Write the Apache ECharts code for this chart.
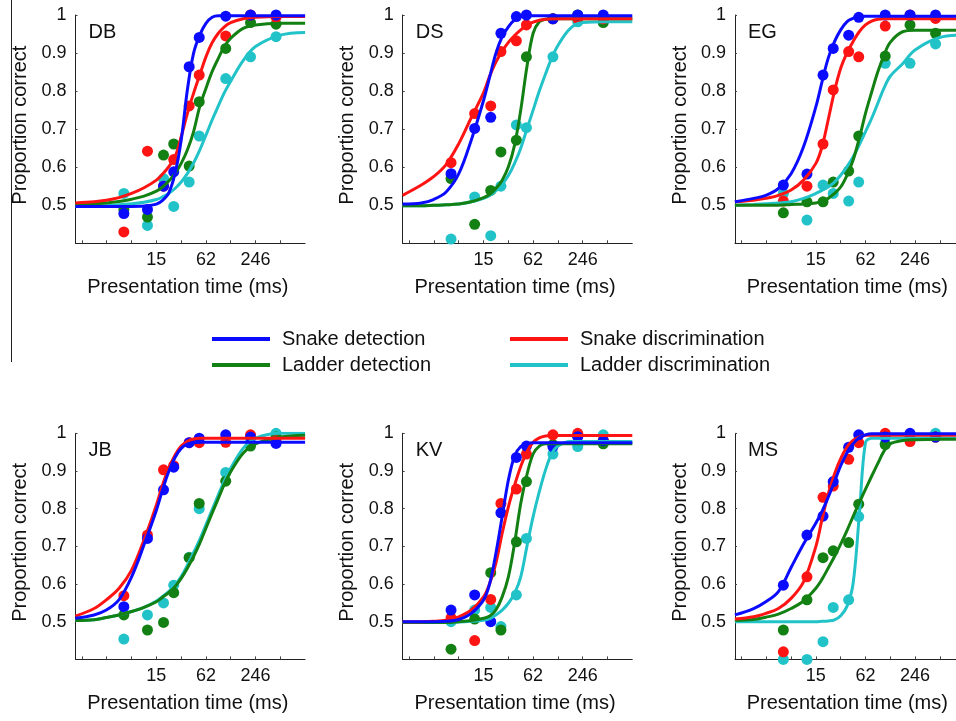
<!DOCTYPE html>
<html>
<head>
<meta charset="utf-8">
<title>Proportion correct vs presentation time</title>
<script src="https://cdn.jsdelivr.net/npm/echarts@6/dist/echarts.min.js"></script>
<style>
    html, body { margin: 0; padding: 0; background: #fff; }
    #chart { width: 956px; height: 721px; }
</style>
</head>
<body>
<div id="chart"></div>
<script>
// x axis runs in log2 steps of this many ms (246 / 64)
var BASE_MS = 3.84375;

// presentation times of the measured points (ms)
var TIMES = [6.2, 12, 18.8, 25, 38.5, 51, 107, 214, 437];
// presentation times where the fitted curves were read (ms)
var FIT_TIMES = [1.6, 2.7, 3.8, 5.4, 7.7, 10.9, 15.4, 18.3, 21.7, 25.9, 30.8, 36.6, 43.5, 51.7, 61.5, 73.1, 87, 103, 123, 174, 246, 492, 984];

var X_LABEL_MS = [15.375, 61.5, 246];
var X_TICK_MS = [1.92, 3.84, 7.69, 15.375, 30.75, 61.5, 123, 246, 492];
var Y_TICKS = [0.5, 0.6, 0.7, 0.8, 0.9, 1];

var SERIES_NAMES = ['Snake detection', 'Snake discrimination', 'Ladder detection', 'Ladder discrimination'];
var COLORS = ['#0b0bff', '#ff1414', '#138013', '#22c3c8'];

/* ---------------- DB ---------------- */
var DB_SNAKE_DET = [0.478, 0.489, 0.55, 0.588, 0.864, 0.941, 0.997, 1.0, 1.0];
var DB_SNAKE_DIS = [0.43, 0.642, 0.55, 0.62, 0.761, 0.842, 0.945, 1.0, 0.994];
var DB_LADDER_DET = [0.489, 0.469, 0.632, 0.661, 0.603, 0.772, 0.912, 0.98, 0.976];
var DB_LADDER_DIS = [0.531, 0.447, 0.57, 0.497, 0.561, 0.682, 0.833, 0.89, 0.943];
var DB_FIT_SNAKE_DET = [0.497, 0.497, 0.497, 0.497, 0.497, 0.498, 0.503, 0.513, 0.532, 0.583, 0.671, 0.803, 0.899, 0.947, 0.978, 0.994, 0.998, 0.998, 0.998, 0.998, 0.998, 0.998, 0.998];
var DB_FIT_SNAKE_DIS = [0.506, 0.509, 0.513, 0.52, 0.531, 0.546, 0.566, 0.582, 0.601, 0.627, 0.68, 0.741, 0.794, 0.842, 0.89, 0.927, 0.952, 0.969, 0.98, 0.99, 0.994, 0.996, 0.996];
var DB_FIT_LADDER_DET = [0.503, 0.504, 0.506, 0.51, 0.516, 0.524, 0.537, 0.548, 0.563, 0.583, 0.61, 0.645, 0.693, 0.759, 0.807, 0.851, 0.886, 0.917, 0.939, 0.965, 0.974, 0.978, 0.978];
var DB_FIT_LADDER_DIS = [0.497, 0.498, 0.499, 0.501, 0.504, 0.508, 0.515, 0.522, 0.531, 0.544, 0.561, 0.583, 0.611, 0.645, 0.684, 0.724, 0.761, 0.796, 0.826, 0.88, 0.917, 0.947, 0.954];

/* ---------------- DS ---------------- */
var DS_SNAKE_DET = [0.583, 0.702, 0.731, 0.952, 0.996, 1.0, 0.99, 1.0, 1.0];
var DS_SNAKE_DIS = [0.612, 0.741, 0.761, 0.904, 0.932, 0.974, 0.99, 0.99, 0.99];
var DS_LADDER_DET = [0.57, 0.45, 0.539, 0.64, 0.671, 0.89, 0.99, 1.0, 0.98];
var DS_LADDER_DIS = [0.411, 0.522, 0.42, 0.55, 0.711, 0.704, 0.89, 0.982, 0.982];
var DS_FIT_SNAKE_DET = [0.503, 0.506, 0.515, 0.535, 0.583, 0.671, 0.776, 0.838, 0.899, 0.943, 0.969, 0.987, 0.996, 0.998, 0.998, 0.998, 0.998, 0.998, 0.998, 0.998, 0.998, 0.998, 0.998];
var DS_FIT_SNAKE_DIS = [0.526, 0.553, 0.575, 0.607, 0.662, 0.73, 0.796, 0.84, 0.876, 0.905, 0.928, 0.946, 0.961, 0.973, 0.981, 0.986, 0.989, 0.99, 0.99, 0.99, 0.99, 0.99, 0.99];
var DS_FIT_LADDER_DET = [0.499, 0.499, 0.5, 0.501, 0.503, 0.509, 0.52, 0.529, 0.544, 0.566, 0.601, 0.658, 0.75, 0.864, 0.952, 0.982, 0.989, 0.99, 0.99, 0.99, 0.99, 0.99, 0.99];
var DS_FIT_LADDER_DIS = [0.499, 0.499, 0.5, 0.501, 0.503, 0.509, 0.518, 0.526, 0.538, 0.555, 0.578, 0.61, 0.65, 0.7, 0.75, 0.8, 0.845, 0.886, 0.92, 0.965, 0.98, 0.982, 0.982];

/* ---------------- EG ---------------- */
var EG_SNAKE_DET = [0.553, 0.582, 0.842, 0.912, 0.947, 0.994, 1.0, 1.0, 1.0];
var EG_SNAKE_DIS = [0.511, 0.55, 0.661, 0.803, 0.904, 0.89, 0.971, 1.0, 0.991];
var EG_LADDER_DET = [0.48, 0.509, 0.509, 0.561, 0.59, 0.682, 0.892, 0.974, 0.952];
var EG_LADDER_DIS = [0.531, 0.461, 0.553, 0.531, 0.511, 0.561, 0.873, 0.873, 0.924];
var EG_FIT_SNAKE_DET = [0.509, 0.518, 0.526, 0.544, 0.583, 0.654, 0.759, 0.825, 0.886, 0.93, 0.961, 0.982, 0.991, 0.997, 0.997, 0.997, 0.997, 0.997, 0.997, 0.997, 0.997, 0.997, 0.997];
var EG_FIT_SNAKE_DIS = [0.509, 0.513, 0.518, 0.526, 0.54, 0.566, 0.61, 0.654, 0.724, 0.8, 0.86, 0.9, 0.93, 0.956, 0.974, 0.984, 0.989, 0.99, 0.99, 0.99, 0.99, 0.99, 0.99];
var EG_FIT_LADDER_DET = [0.5, 0.5, 0.5, 0.5, 0.502, 0.503, 0.506, 0.511, 0.518, 0.531, 0.548, 0.578, 0.618, 0.675, 0.741, 0.797, 0.851, 0.893, 0.928, 0.956, 0.96, 0.96, 0.96];
var EG_FIT_LADDER_DIS = [0.5, 0.502, 0.504, 0.506, 0.509, 0.518, 0.531, 0.539, 0.548, 0.561, 0.579, 0.601, 0.627, 0.658, 0.693, 0.728, 0.768, 0.807, 0.839, 0.872, 0.908, 0.941, 0.947];

/* ---------------- JB ---------------- */
var JB_SNAKE_DET = [0.54, 0.721, 0.85, 0.91, 0.975, 0.987, 0.996, 0.99, 0.973];
var JB_SNAKE_DIS = [0.569, 0.73, 0.903, 0.914, 0.975, 0.975, 0.976, 0.996, 0.98];
var JB_LADDER_DET = [0.518, 0.478, 0.498, 0.577, 0.67, 0.814, 0.873, 0.966, 0.99];
var JB_LADDER_DIS = [0.454, 0.518, 0.55, 0.597, 0.671, 0.8, 0.896, 0.976, 1.0];
var JB_FIT_SNAKE_DET = [0.509, 0.518, 0.531, 0.558, 0.619, 0.704, 0.796, 0.85, 0.898, 0.936, 0.96, 0.971, 0.975, 0.976, 0.976, 0.976, 0.976, 0.976, 0.976, 0.976, 0.976, 0.976, 0.976];
var JB_FIT_SNAKE_DIS = [0.515, 0.535, 0.558, 0.588, 0.637, 0.717, 0.81, 0.863, 0.907, 0.942, 0.966, 0.979, 0.985, 0.987, 0.987, 0.987, 0.987, 0.987, 0.987, 0.987, 0.987, 0.987, 0.987];
var JB_FIT_LADDER_DET = [0.503, 0.505, 0.511, 0.518, 0.527, 0.538, 0.553, 0.565, 0.577, 0.593, 0.615, 0.642, 0.673, 0.708, 0.748, 0.788, 0.827, 0.865, 0.898, 0.947, 0.972, 0.99, 0.995];
var JB_FIT_LADDER_DIS = [0.503, 0.505, 0.511, 0.518, 0.527, 0.538, 0.555, 0.567, 0.58, 0.597, 0.62, 0.65, 0.683, 0.718, 0.757, 0.797, 0.837, 0.874, 0.907, 0.96, 0.987, 1.0, 1.0];

/* ---------------- KV ---------------- */
var KV_SNAKE_DET = [0.531, 0.571, 0.5, 0.789, 0.936, 0.966, 0.965, 0.991, 0.98];
var KV_SNAKE_DIS = [0.51, 0.45, 0.559, 0.814, 0.852, 0.945, 0.996, 1.0, 0.982];
var KV_LADDER_DET = [0.427, 0.507, 0.63, 0.478, 0.712, 0.872, 0.97, 0.993, 0.972];
var KV_LADDER_DIS = [0.5, 0.531, 0.538, 0.487, 0.571, 0.721, 0.945, 0.965, 0.996];
var KV_FIT_SNAKE_DET = [0.5, 0.5, 0.5, 0.501, 0.506, 0.522, 0.558, 0.602, 0.681, 0.779, 0.876, 0.94, 0.965, 0.972, 0.975, 0.975, 0.975, 0.975, 0.975, 0.975, 0.975, 0.975, 0.975];
var KV_FIT_SNAKE_DIS = [0.5, 0.5, 0.501, 0.504, 0.513, 0.531, 0.566, 0.602, 0.655, 0.735, 0.805, 0.862, 0.912, 0.951, 0.976, 0.988, 0.993, 0.994, 0.994, 0.994, 0.994, 0.994, 0.994];
var KV_FIT_LADDER_DET = [0.498, 0.498, 0.498, 0.498, 0.5, 0.503, 0.509, 0.515, 0.531, 0.566, 0.619, 0.708, 0.814, 0.89, 0.945, 0.966, 0.972, 0.972, 0.972, 0.972, 0.972, 0.972, 0.972];
var KV_FIT_LADDER_DIS = [0.498, 0.498, 0.498, 0.498, 0.499, 0.501, 0.504, 0.508, 0.518, 0.531, 0.549, 0.575, 0.619, 0.7, 0.779, 0.845, 0.903, 0.945, 0.966, 0.978, 0.978, 0.978, 0.978];

/* ---------------- MS ---------------- */
var MS_SNAKE_DET = [0.597, 0.73, 0.78, 0.872, 0.963, 0.996, 0.99, 1.0, 0.99];
var MS_SNAKE_DIS = [0.42, 0.619, 0.83, 0.86, 0.931, 0.975, 1.0, 0.978, 0.99];
var MS_LADDER_DET = [0.478, 0.558, 0.67, 0.688, 0.71, 0.812, 0.97, 0.99, 0.99];
var MS_LADDER_DIS = [0.4, 0.4, 0.447, 0.538, 0.558, 0.779, 0.973, 0.993, 1.0];
var MS_FIT_SNAKE_DET = [0.518, 0.535, 0.553, 0.58, 0.644, 0.706, 0.762, 0.793, 0.83, 0.872, 0.914, 0.948, 0.972, 0.988, 0.996, 0.999, 0.999, 0.999, 0.999, 0.999, 0.999, 0.999, 0.999];
var MS_FIT_SNAKE_DIS = [0.507, 0.513, 0.522, 0.535, 0.562, 0.606, 0.7, 0.772, 0.838, 0.892, 0.933, 0.963, 0.981, 0.99, 0.995, 0.995, 0.995, 0.995, 0.995, 0.995, 0.995, 0.995, 0.995];
var MS_FIT_LADDER_DET = [0.504, 0.506, 0.512, 0.52, 0.535, 0.555, 0.589, 0.613, 0.642, 0.673, 0.706, 0.741, 0.779, 0.815, 0.851, 0.886, 0.92, 0.952, 0.972, 0.981, 0.983, 0.984, 0.984];
var MS_FIT_LADDER_DIS = [0.5, 0.5, 0.5, 0.5, 0.5, 0.5, 0.5, 0.501, 0.502, 0.505, 0.516, 0.54, 0.6, 0.78, 0.975, 0.987, 0.987, 0.987, 0.987, 0.987, 0.987, 0.987, 0.987];

var PANELS = [
    { label: 'DB', col: 0, row: 0,
      points: [DB_SNAKE_DET, DB_SNAKE_DIS, DB_LADDER_DET, DB_LADDER_DIS],
      fits: [DB_FIT_SNAKE_DET, DB_FIT_SNAKE_DIS, DB_FIT_LADDER_DET, DB_FIT_LADDER_DIS] },
    { label: 'DS', col: 1, row: 0,
      points: [DS_SNAKE_DET, DS_SNAKE_DIS, DS_LADDER_DET, DS_LADDER_DIS],
      fits: [DS_FIT_SNAKE_DET, DS_FIT_SNAKE_DIS, DS_FIT_LADDER_DET, DS_FIT_LADDER_DIS] },
    { label: 'EG', col: 2, row: 0,
      points: [EG_SNAKE_DET, EG_SNAKE_DIS, EG_LADDER_DET, EG_LADDER_DIS],
      fits: [EG_FIT_SNAKE_DET, EG_FIT_SNAKE_DIS, EG_FIT_LADDER_DET, EG_FIT_LADDER_DIS] },
    { label: 'JB', col: 0, row: 1,
      points: [JB_SNAKE_DET, JB_SNAKE_DIS, JB_LADDER_DET, JB_LADDER_DIS],
      fits: [JB_FIT_SNAKE_DET, JB_FIT_SNAKE_DIS, JB_FIT_LADDER_DET, JB_FIT_LADDER_DIS] },
    { label: 'KV', col: 1, row: 1,
      points: [KV_SNAKE_DET, KV_SNAKE_DIS, KV_LADDER_DET, KV_LADDER_DIS],
      fits: [KV_FIT_SNAKE_DET, KV_FIT_SNAKE_DIS, KV_FIT_LADDER_DET, KV_FIT_LADDER_DIS] },
    { label: 'MS', col: 2, row: 1,
      points: [MS_SNAKE_DET, MS_SNAKE_DIS, MS_LADDER_DET, MS_LADDER_DIS],
      fits: [MS_FIT_SNAKE_DET, MS_FIT_SNAKE_DIS, MS_FIT_LADDER_DET, MS_FIT_LADDER_DIS] }
];

// panel placement
var COL_LEFT = [75.5, 402.7, 735];
var ROW_TOP = [15, 433.3];
var ROW_HEIGHT = [228.3, 226.1];
var GRID_WIDTH = 229.6;
var X_MIN = -1.26;
var X_MAX = 8;

var FONT = 'Liberation Sans, Arial, sans-serif';

function lg(ms) {
    return Math.log(ms / BASE_MS) / Math.LN2;
}

function pairs(times, values) {
    return times.map(function (t, i) {
        return [lg(t), values[i]];
    });
}

var grids = [], xAxes = [], yAxes = [], titles = [], series = [];
// draw order: cyan, green, red, blue (blue ends up on top)
var DRAW_ORDER = [3, 2, 1, 0];

PANELS.forEach(function (panel, p) {
    grids.push({
        left: COL_LEFT[panel.col],
        top: ROW_TOP[panel.row],
        width: GRID_WIDTH,
        height: ROW_HEIGHT[panel.row],
        containLabel: false,
        outerBoundsMode: 'none'
    });

    xAxes.push({
        type: 'value',
        gridIndex: p,
        min: X_MIN,
        max: X_MAX,
        name: 'Presentation time (ms)',
        nameLocation: 'middle',
        nameGap: 34,
        nameTextStyle: { fontSize: 20, color: '#111', fontFamily: FONT, padding: [0, 5, 0, 0] },
        axisLine: { show: true, onZero: false, lineStyle: { color: '#222', width: 1 } },
        axisTick: { show: true, inside: true, length: 3, lineStyle: { color: '#444' },
                    customValues: X_TICK_MS.map(lg) },
        axisLabel: {
            customValues: X_LABEL_MS.map(lg),
            fontSize: 18, color: '#111', margin: 8, fontFamily: FONT,
            formatter: function (v) { return String(Math.round(BASE_MS * Math.pow(2, v))); }
        },
        splitLine: { show: false }
    });

    yAxes.push({
        type: 'value',
        gridIndex: p,
        min: 0.4,
        max: 1,
        name: 'Proportion correct',
        nameLocation: 'middle',
        nameGap: 45,
        nameTextStyle: { fontSize: 20, color: '#111', fontFamily: FONT, padding: [0, 0, 0, 8] },
        axisLine: { show: true, onZero: false, lineStyle: { color: '#222', width: 1 } },
        axisTick: { show: true, inside: true, length: 2, lineStyle: { color: '#444' },
                    customValues: Y_TICKS },
        axisLabel: {
            customValues: Y_TICKS,
            fontSize: 18, color: '#111', margin: 9, fontFamily: FONT,
            formatter: function (v) { return v > 0.95 ? '1' : v.toFixed(1); }
        },
        splitLine: { show: false }
    });

    titles.push({
        text: panel.label,
        left: COL_LEFT[panel.col] + 13,
        top: ROW_TOP[panel.row] + 7,
        padding: 0,
        textStyle: { fontSize: 20, fontWeight: 'normal', color: '#111', fontFamily: FONT }
    });

    // fitted curves
    DRAW_ORDER.forEach(function (k) {
        series.push({
            type: 'line',
            name: SERIES_NAMES[k],
            xAxisIndex: p,
            yAxisIndex: p,
            data: pairs(FIT_TIMES, panel.fits[k]),
            smooth: 0.35,
            showSymbol: false,
            symbol: 'none',
            lineStyle: { color: COLORS[k], width: 3 },
            itemStyle: { color: COLORS[k] },
            clip: true,
            silent: true
        });
    });
    // measured points
    DRAW_ORDER.forEach(function (k) {
        series.push({
            type: 'scatter',
            name: SERIES_NAMES[k],
            xAxisIndex: p,
            yAxisIndex: p,
            data: pairs(TIMES, panel.points[k]),
            symbol: 'circle',
            symbolSize: 11,
            itemStyle: { color: COLORS[k], opacity: 1 },
            clip: false,
            silent: true
        });
    });
});

var legendBase = {
    orient: 'vertical',
    top: 328,
    padding: 0,
    icon: 'rect',
    itemWidth: 58,
    itemHeight: 4,
    itemGap: 4,
    selectedMode: false,
    textStyle: { fontSize: 20, color: '#111', fontFamily: FONT, lineHeight: 22, padding: [0, 0, 0, 7] }
};

var option = {
    animation: false,
    backgroundColor: '#fff',
    textStyle: { fontFamily: FONT },
    title: titles,
    grid: grids,
    xAxis: xAxes,
    yAxis: yAxes,
    legend: [
        Object.assign({}, legendBase, { left: 212, data: ['Snake detection', 'Ladder detection'] }),
        Object.assign({}, legendBase, { left: 510, data: ['Snake discrimination', 'Ladder discrimination'] })
    ],
    graphic: [{
        type: 'line',
        shape: { x1: 11.5, y1: 0, x2: 11.5, y2: 362 },
        style: { stroke: '#222', lineWidth: 1 },
        silent: true
    }],
    series: series
};

var chart = echarts.init(document.getElementById('chart'), null, { renderer: 'canvas' });
chart.setOption(option);

window.onresize = function () {
    chart.resize();
};
</script>
</body>
</html>
